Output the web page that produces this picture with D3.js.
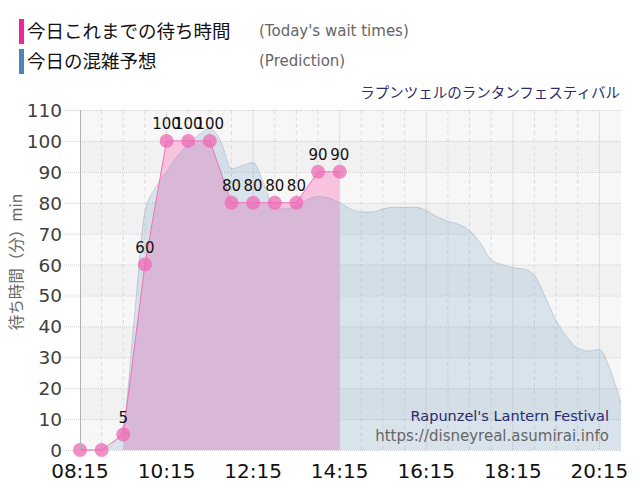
<!DOCTYPE html>
<html><head><meta charset="utf-8">
<script src="https://cdn.jsdelivr.net/npm/d3@7"></script>
<style>body{margin:0;background:#fff}svg{display:block}</style>
</head><body><svg id="c" width="640" height="500"></svg>
<script>
const waitTimes = ["08:15","08:45","09:15","09:45","10:15","10:45","11:15","11:45","12:15","12:45","13:15","13:45","14:15"];
const waitValues = [0,0,5,60,100,100,100,80,80,80,80,90,90];
const predTimes = ["08:15","08:30","08:45","09:00","09:15","09:30","09:45","10:00","10:15","10:30","10:45","11:00","11:15","11:30","11:45","12:00","12:15","12:30","12:45","13:00","13:15","13:30","13:45","14:00","14:15","14:30","14:45","15:00","15:15","15:30","15:45","16:00","16:15","16:30","16:45","17:00","17:15","17:30","17:45","18:00","18:15","18:30","18:45","19:00","19:15","19:30","19:45","20:00","20:15","20:30","20:45"];
const predValues = [0,0,0,2,8,42,77,85,90,95,99,102,104,100,91,92,93,86,78,78,79,81,82,81.5,80,78,77,77,78,78.5,78.5,78.5,77.5,75.5,74,73,71,67,61.5,60,59,58.5,56.5,49.5,42,36.5,33,32,32.5,26,15];
const xTickLabels = ["08:15","10:15","12:15","14:15","16:15","18:15","20:15"];
const yTickValues = [0,10,20,30,40,50,60,70,80,90,100,110];
const legendLabels = ["今日これまでの待ち時間","今日の混雑予想"];
const legendSubLabels = ["(Today's wait times)","(Prediction)"];
const titleText = "ラプンツェルのランタンフェスティバル";
const yTitle = "待ち時間（分）min";
const watermark = ["Rapunzel's Lantern Festival","https://disneyreal.asumirai.info"];

const parse = d3.timeParse("%H:%M");
const svg = d3.select("#c");
const L=80, R=621, T=110, B=450;
const x = d3.scaleTime().domain([parse("08:15"), parse("20:45")]).range([L,R]);
const y = d3.scaleLinear().domain([0,110]).range([B,T]);
const FONT = "'DejaVu Sans', 'Noto Sans CJK JP', sans-serif";
const JFONT = "'Noto Sans CJK JP', 'DejaVu Sans', sans-serif";

// bands
const bands = d3.range(0,110,10);
svg.append("g").selectAll("rect").data(bands).join("rect")
  .attr("x",L).attr("width",R-L)
  .attr("y",d=>y(d+10)).attr("height",d=>y(d)-y(d+10))
  .attr("fill",d=>(d/10)%2===0?"#f7f7f7":"#f1f1f1");

// vertical grid (every 30 min)
const start = parse("08:15");
const vlines = d3.range(1,25).map(i=>d3.timeMinute.offset(start, i*30));
svg.append("g").selectAll("line").data(vlines).join("line")
  .attr("x1",d=>x(d)).attr("x2",d=>x(d)).attr("y1",T).attr("y2",B)
  .attr("stroke",(d,i)=>((i+1)%4===0)?"#c8c8c8":"#dddddd")
  .attr("stroke-dasharray",(d,i)=>((i+1)%4===0)?"1,1":"4,3")
  .attr("stroke-width",1);

// horizontal grid
svg.append("g").selectAll("line").data(yTickValues).join("line")
  .attr("x1",64).attr("x2",R).attr("y1",d=>y(d)+0.5).attr("y2",d=>y(d)+0.5)
  .attr("stroke","#cfcfcf").attr("stroke-dasharray","1,1");

// pink area (actual)
const wdata = waitTimes.map((t,i)=>({t:parse(t),v:waitValues[i]}));
const pdata = predTimes.map((t,i)=>({t:parse(t),v:predValues[i]}));
const areaLin = d3.area().x(d=>x(d.t)).y0(B).y1(d=>y(d.v));
svg.append("path").datum(wdata.slice(2)).attr("d",areaLin)
  .attr("fill","#f7c3df");

// blue prediction area (semi-transparent on top)
const areaP = d3.area().curve(d3.curveMonotoneX).x(d=>x(d.t)).y0(B).y1(d=>y(d.v));
const lineP = d3.line().curve(d3.curveMonotoneX).x(d=>x(d.t)).y(d=>y(d.v));
svg.append("path").datum(pdata).attr("d",areaP).attr("fill","rgba(70,130,180,0.17)");
svg.append("path").datum(pdata).attr("d",lineP).attr("fill","none").attr("stroke","rgba(120,150,175,0.35)").attr("stroke-width",1);

// pink line
const lineW = d3.line().x(d=>x(d.t)).y(d=>y(d.v));
svg.append("path").datum(wdata).attr("d",lineW).attr("fill","none").attr("stroke","#f070b8").attr("stroke-width",1);

// points
svg.append("g").selectAll("circle").data(wdata).join("circle")
  .attr("cx",d=>x(d.t)).attr("cy",d=>y(d.v)).attr("r",7)
  .attr("fill","rgba(238,105,180,0.75)");

// labels (skip zeros)
svg.append("g").selectAll("text").data(wdata.filter(d=>d.v>0)).join("text")
  .attr("x",d=>x(d.t)).attr("y",d=>y(d.v)-12)
  .attr("text-anchor","middle").attr("font-family",FONT).attr("font-size",15)
  .attr("fill","#111").text(d=>d.v);

// left axis line
svg.append("line").attr("x1",L+0.5).attr("x2",L+0.5).attr("y1",T).attr("y2",B).attr("stroke","#b0b0b0");

// y tick labels
svg.append("g").selectAll("text").data(yTickValues).join("text")
  .attr("x",62).attr("y",d=>y(d)+7)
  .attr("text-anchor","end").attr("font-family",FONT).attr("font-size",18.5)
  .attr("fill","#404040").text(d=>d);

// x tick labels
svg.append("g").selectAll("text").data(xTickLabels).join("text")
  .attr("x",d=>x(parse(d))).attr("y",478)
  .attr("text-anchor","middle").attr("font-family",FONT).attr("font-size",20)
  .attr("fill","#111").text(d=>d);

// y title
svg.append("text").attr("transform","translate(22,262) rotate(-90)")
  .attr("text-anchor","middle").attr("font-family",JFONT).attr("font-size",15.5)
  .attr("fill","#666").text(yTitle);

// legend
const legColors = ["#f0259a","#4a86b8"];
legendLabels.forEach((lab,i)=>{
  const cy = 31 + i*30;
  svg.append("rect").attr("x",19).attr("y",cy-12).attr("width",5).attr("height",25).attr("fill",legColors[i]);
  svg.append("text").attr("x",27).attr("y",cy+7).attr("font-family",JFONT).attr("font-size",18.5)
    .attr("fill","#111").text(lab);
  svg.append("text").attr("x",259).attr("y",cy+5).attr("font-family",FONT).attr("font-size",15)
    .attr("fill","#666").text(legendSubLabels[i]);
});

// title right
svg.append("text").attr("x",620).attr("y",98).attr("text-anchor","end")
  .attr("font-family",JFONT).attr("font-size",14.5).attr("fill","#2b2b6e").text(titleText);

// watermark
svg.append("text").attr("x",609).attr("y",421).attr("text-anchor","end")
  .attr("font-family",FONT).attr("font-size",14.5).attr("fill","#2b2b6e").text(watermark[0]);
svg.append("text").attr("x",609).attr("y",441).attr("text-anchor","end")
  .attr("font-family",FONT).attr("font-size",15).attr("fill","#666").text(watermark[1]);
</script></body></html>
